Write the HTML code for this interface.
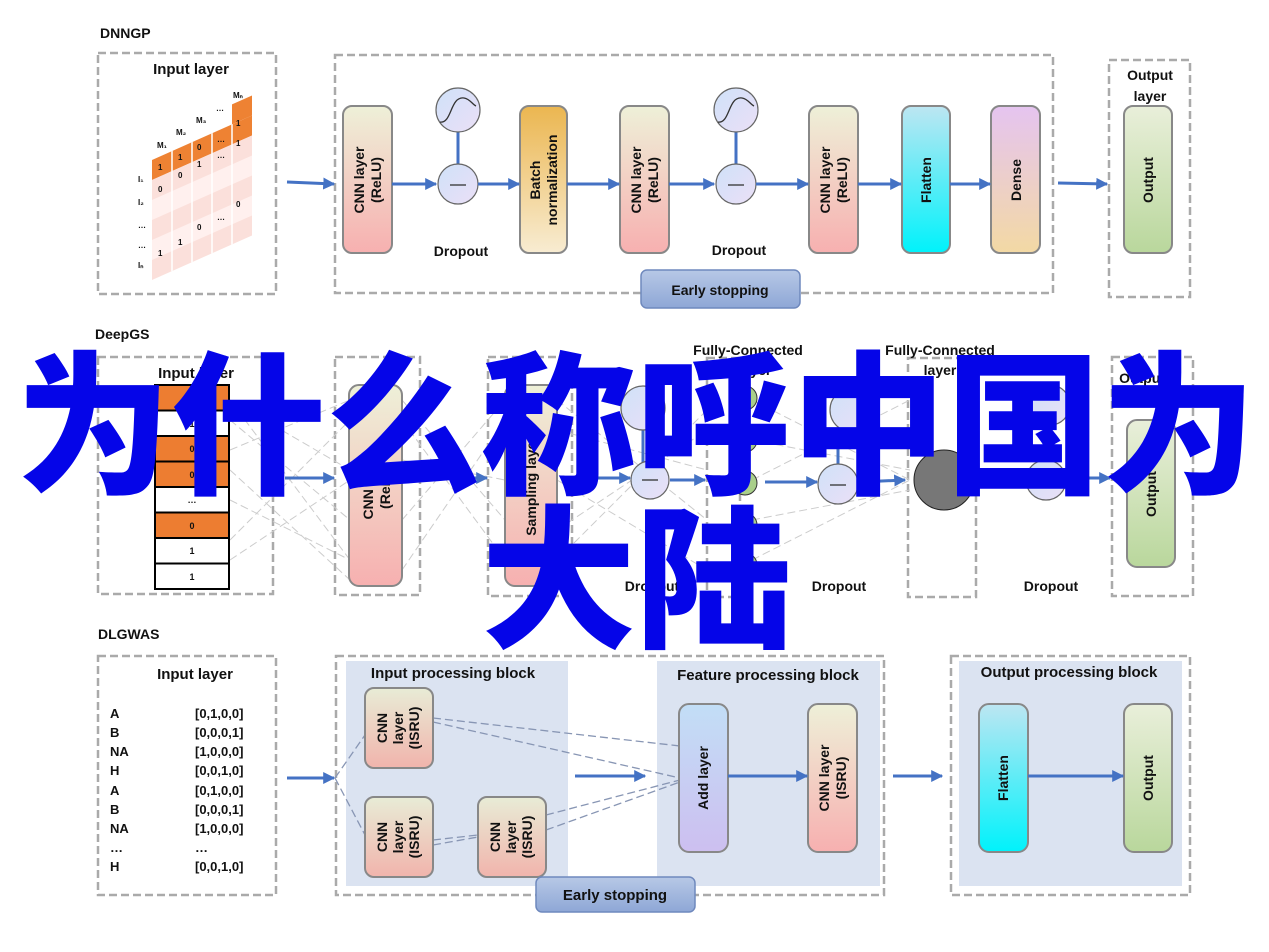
<!DOCTYPE html>
<html><head><meta charset="utf-8"><style>
html,body{margin:0;padding:0;background:#fff;width:1269px;height:952px;overflow:hidden}
svg{display:block}
text{font-family:"Liberation Sans",Arial,sans-serif;font-weight:bold;fill:#111}
.cj{font-family:"Liberation Sans","Noto Sans CJK SC",sans-serif;font-weight:900;fill:#0505e8}
</style></head><body>
<svg width="1269" height="952" viewBox="0 0 1269 952" xmlns="http://www.w3.org/2000/svg">
<defs>
<linearGradient id="gC" x1="0" y1="0" x2="0" y2="1"><stop offset="0" stop-color="#eef0d8"/><stop offset="1" stop-color="#f7b0b0"/></linearGradient>
<linearGradient id="gB" x1="0" y1="0" x2="0" y2="1"><stop offset="0" stop-color="#ebb650"/><stop offset="1" stop-color="#f8ecd2"/></linearGradient>
<linearGradient id="gF" x1="0" y1="0" x2="0" y2="1"><stop offset="0" stop-color="#bde6f2"/><stop offset="1" stop-color="#00f2fb"/></linearGradient>
<linearGradient id="gD" x1="0" y1="0" x2="0" y2="1"><stop offset="0" stop-color="#e5c4f0"/><stop offset="1" stop-color="#f3d9a4"/></linearGradient>
<linearGradient id="gO" x1="0" y1="0" x2="0" y2="1"><stop offset="0" stop-color="#e9efda"/><stop offset="1" stop-color="#b9d79c"/></linearGradient>
<linearGradient id="gA" x1="0" y1="0" x2="0" y2="1"><stop offset="0" stop-color="#c2def6"/><stop offset="1" stop-color="#cdbff0"/></linearGradient>
<linearGradient id="gI" x1="0" y1="0" x2="0" y2="1"><stop offset="0" stop-color="#e8ecd6"/><stop offset="1" stop-color="#f1b4ac"/></linearGradient>
<linearGradient id="gCi" x1="0" y1="0" x2="1" y2="1"><stop offset="0" stop-color="#cfe1f8"/><stop offset="1" stop-color="#ebe0f7"/></linearGradient>
<linearGradient id="gE" x1="0" y1="0" x2="0" y2="1"><stop offset="0" stop-color="#b7c8e6"/><stop offset="1" stop-color="#8ea7d6"/></linearGradient>
<marker id="ar" viewBox="0 0 10 10" refX="9" refY="5" markerWidth="4" markerHeight="4" orient="auto"><path d="M0,0L10,5L0,10z" fill="#4472c4"/></marker>
</defs>
<g fill="none" stroke="#aaa" stroke-width="2.5" stroke-dasharray="8,4">
<rect x="98" y="53" width="178" height="241"/>
<rect x="335" y="55" width="718" height="238"/>
<rect x="1109" y="60" width="81" height="237"/>
<rect x="98" y="357" width="175" height="237"/>
<rect x="335" y="357" width="85" height="238"/>
<rect x="488" y="357" width="84" height="239"/>
<rect x="707" y="358" width="33" height="239"/>
<rect x="908" y="358" width="68" height="239"/>
<rect x="1112" y="357" width="81" height="239"/>
<rect x="98" y="656" width="178" height="239"/>
<rect x="336" y="656" width="548" height="239"/>
<rect x="951" y="656" width="239" height="239"/>
</g>
<text x="100" y="38" font-size="14">DNNGP</text>
<text x="95" y="339" font-size="14">DeepGS</text>
<text x="98" y="639" font-size="14">DLGWAS</text>

<!-- DNNGP input matrix -->
<text x="191" y="74" font-size="15" text-anchor="middle">Input layer</text>
<g transform="translate(152,160) skewY(-24)">
<rect x="0" y="0" width="100" height="20" fill="#ee8233"/>
<rect x="0" y="20" width="100" height="100" fill="#fbe0db"/>
<rect x="0" y="40" width="100" height="20" fill="#fff0ee"/>
<rect x="0" y="80" width="100" height="20" fill="#fff0ee"/>
<rect x="80" y="-20" width="20" height="20" fill="#ee8233"/>
<g stroke="#fff" stroke-width="1.5"><line x1="20" y1="0" x2="20" y2="120"/><line x1="40" y1="0" x2="40" y2="120"/><line x1="60" y1="0" x2="60" y2="120"/><line x1="80" y1="0" x2="80" y2="120"/></g>
</g>
<g font-size="8" font-weight="normal"><text x="158" y="170">1</text><text x="178" y="160">1</text><text x="197" y="150">0</text><text x="217" y="142">…</text><text x="236" y="126">1</text>
<text x="158" y="192">0</text><text x="178" y="178">0</text><text x="197" y="167">1</text><text x="217" y="158">…</text><text x="236" y="146">1</text>
<text x="236" y="207">0</text><text x="197" y="230">0</text><text x="217" y="220">…</text><text x="178" y="245">1</text><text x="158" y="256">1</text>
<text x="138" y="182">I₁</text><text x="138" y="205">I₂</text><text x="138" y="228">…</text><text x="138" y="248">…</text><text x="138" y="268">Iₙ</text>
<text x="157" y="148">M₁</text><text x="176" y="135">M₂</text><text x="196" y="123">M₃</text><text x="216" y="111">…</text><text x="233" y="98">Mₙ</text></g>

<!-- DNNGP nodes -->
<g stroke="#888" stroke-width="2">
<rect x="343" y="106" width="49" height="147" rx="9" fill="url(#gC)"/>
<rect x="520" y="106" width="47" height="147" rx="9" fill="url(#gB)"/>
<rect x="620" y="106" width="49" height="147" rx="9" fill="url(#gC)"/>
<rect x="809" y="106" width="49" height="147" rx="9" fill="url(#gC)"/>
<rect x="902" y="106" width="48" height="147" rx="9" fill="url(#gF)"/>
<rect x="991" y="106" width="49" height="147" rx="9" fill="url(#gD)"/>
<rect x="1124" y="106" width="48" height="147" rx="9" fill="url(#gO)"/>
</g>
<g font-size="14" text-anchor="middle">
<text transform="translate(367,180) rotate(-90)"><tspan x="0" y="-3">CNN layer</tspan><tspan x="0" y="14">(ReLU)</tspan></text>
<text transform="translate(543,180) rotate(-90)"><tspan x="0" y="-3">Batch</tspan><tspan x="0" y="14">normalization</tspan></text>
<text transform="translate(644,180) rotate(-90)"><tspan x="0" y="-3">CNN layer</tspan><tspan x="0" y="14">(ReLU)</tspan></text>
<text transform="translate(833,180) rotate(-90)"><tspan x="0" y="-3">CNN layer</tspan><tspan x="0" y="14">(ReLU)</tspan></text>
<text transform="translate(931,180) rotate(-90)">Flatten</text>
<text transform="translate(1021,180) rotate(-90)">Dense</text>
<text transform="translate(1153,180) rotate(-90)">Output</text>
<text x="461" y="256">Dropout</text><text x="739" y="255">Dropout</text>
</g>
<!-- dropout circles -->
<g stroke="#666" stroke-width="1.2" fill="url(#gCi)">
<line x1="458" y1="132" x2="458" y2="164" stroke="#4472c4" stroke-width="3"/>
<circle cx="458" cy="110" r="22"/><circle cx="458" cy="184" r="20"/>
<line x1="736" y1="132" x2="736" y2="164" stroke="#4472c4" stroke-width="3"/>
<circle cx="736" cy="110" r="22"/><circle cx="736" cy="184" r="20"/>
</g>
<g stroke="#333" stroke-width="1.3" fill="none">
<path d="M440,122 C452,124 450,96 464,98 C470,99 472,104 476,106"/><line x1="450" y1="185" x2="466" y2="185"/>
<path d="M718,122 C730,124 728,96 742,98 C748,99 750,104 754,106"/><line x1="728" y1="185" x2="744" y2="185"/>
</g>
<g stroke="#4472c4" stroke-width="3" marker-end="url(#ar)">
<line x1="287" y1="182" x2="334" y2="184"/><line x1="392" y1="184" x2="436" y2="184"/><line x1="478" y1="184" x2="519" y2="184"/>
<line x1="567" y1="184" x2="619" y2="184"/><line x1="669" y1="184" x2="714" y2="184"/><line x1="756" y1="184" x2="808" y2="184"/>
<line x1="858" y1="184" x2="901" y2="184"/><line x1="950" y1="184" x2="990" y2="184"/><line x1="1058" y1="183" x2="1107" y2="184"/>
</g>
<rect x="641" y="270" width="159" height="38" rx="6" fill="url(#gE)" stroke="#6f89bd" stroke-width="1.5"/>
<text x="720" y="295" font-size="14" text-anchor="middle">Early stopping</text>

<!-- DeepGS -->
<g stroke="#ccc" stroke-width="1" stroke-dasharray="8,4" fill="none">
<path d="M230,400L350,470M230,400L350,560M230,450L350,400M230,500L350,560M230,540L350,420M230,560L350,480M230,420L350,520M230,470L350,580"/>
<path d="M402,420L505,560M402,520L505,400M402,460L505,480M402,570L505,420M402,400L505,520"/>
<path d="M557,400L707,520M557,560L707,410M557,480L707,570M557,430L707,470M557,530L707,430"/>
<path d="M752,400L910,480M752,560L910,480M752,440L910,470M752,520L910,490M752,480L910,400"/>
</g>
<text x="196" y="378" font-size="15" text-anchor="middle">Input layer</text>
<g stroke="#000" stroke-width="2">
<rect x="155" y="385" width="74" height="25.5" fill="#ed7d31"/><rect x="155" y="410.5" width="74" height="25.5" fill="#fff"/>
<rect x="155" y="436" width="74" height="25.5" fill="#ed7d31"/><rect x="155" y="461.5" width="74" height="25.5" fill="#ed7d31"/>
<rect x="155" y="487" width="74" height="25.5" fill="#fff"/><rect x="155" y="512.5" width="74" height="25.5" fill="#ed7d31"/>
<rect x="155" y="538" width="74" height="25.5" fill="#fff"/><rect x="155" y="563.5" width="74" height="25.5" fill="#fff"/>
</g>
<g font-size="9" font-weight="normal" text-anchor="middle"><text x="192" y="401">0</text><text x="192" y="427">1</text><text x="192" y="452">0</text><text x="192" y="478">0</text><text x="192" y="503">…</text><text x="192" y="529">0</text><text x="192" y="554">1</text><text x="192" y="580">1</text></g>
<g stroke="#888" stroke-width="2">
<rect x="349" y="385" width="53" height="201" rx="10" fill="url(#gC)"/>
<rect x="505" y="385" width="52" height="201" rx="10" fill="url(#gC)"/>
<rect x="1127" y="420" width="48" height="147" rx="10" fill="url(#gO)"/>
</g>
<g font-size="14" text-anchor="middle">
<text transform="translate(376,486) rotate(-90)"><tspan x="0" y="-3">CNN layer</tspan><tspan x="0" y="14">(ReLU)</tspan></text>
<text transform="translate(531,486) rotate(-90)" dy="5">Sampling layer</text>
<text transform="translate(1151,494) rotate(-90)" dy="5">Output</text>
<text x="748" y="355">Fully-Connected</text><text x="755" y="375">layer</text>
<text x="940" y="355">Fully-Connected</text><text x="940" y="375">layer</text>
<text x="1142" y="383">Output</text><text x="1142" y="403">layer</text>
<text x="1150" y="80">Output</text><text x="1150" y="101">layer</text>
<text x="652" y="591">Dropout</text><text x="839" y="591">Dropout</text><text x="1051" y="591">Dropout</text>
</g>
<g stroke="#333" stroke-width="1" fill="#a9cf8a">
<circle cx="745" cy="398" r="12"/><circle cx="745" cy="440" r="12"/><circle cx="745" cy="483" r="12"/><circle cx="745" cy="525" r="12"/><circle cx="745" cy="565" r="12"/>
</g>
<circle cx="944" cy="480" r="30" fill="#777" stroke="#222"/>
<g stroke="#666" stroke-width="1.2" fill="url(#gCi)">
<line x1="643" y1="430" x2="643" y2="462" stroke="#4472c4" stroke-width="3"/><circle cx="643" cy="408" r="22"/><circle cx="650" cy="480" r="19"/>
<line x1="838" y1="432" x2="838" y2="465" stroke="#4472c4" stroke-width="3"/><circle cx="852" cy="410" r="22"/><circle cx="838" cy="484" r="20"/>
<circle cx="1050" cy="405" r="20"/><circle cx="1046" cy="480" r="20"/>
</g>
<g stroke="#333" stroke-width="1.3"><line x1="642" y1="480" x2="658" y2="480"/><line x1="830" y1="485" x2="846" y2="485"/></g>
<g stroke="#4472c4" stroke-width="3" marker-end="url(#ar)">
<line x1="285" y1="478" x2="334" y2="478"/><line x1="428" y1="478" x2="487" y2="478"/><line x1="580" y1="478" x2="630" y2="478"/>
<line x1="670" y1="480" x2="705" y2="480"/><line x1="765" y1="482" x2="817" y2="482"/><line x1="860" y1="482" x2="905" y2="480"/>
<line x1="1068" y1="478" x2="1110" y2="478"/>
</g>

<!-- DLGWAS -->
<text x="195" y="679" font-size="15" text-anchor="middle">Input layer</text>
<g font-size="13">
<text x="110" y="718">A</text><text x="195" y="718">[0,1,0,0]</text>
<text x="110" y="737">B</text><text x="195" y="737">[0,0,0,1]</text>
<text x="110" y="756">NA</text><text x="195" y="756">[1,0,0,0]</text>
<text x="110" y="775">H</text><text x="195" y="775">[0,0,1,0]</text>
<text x="110" y="795">A</text><text x="195" y="795">[0,1,0,0]</text>
<text x="110" y="814">B</text><text x="195" y="814">[0,0,0,1]</text>
<text x="110" y="833">NA</text><text x="195" y="833">[1,0,0,0]</text>
<text x="110" y="852">…</text><text x="195" y="852">…</text>
<text x="110" y="871">H</text><text x="195" y="871">[0,0,1,0]</text>
</g>
<rect x="346" y="661" width="222" height="225" fill="#dbe3f1"/>
<rect x="657" y="661" width="223" height="225" fill="#dbe3f1"/>
<rect x="959" y="661" width="223" height="225" fill="#dbe3f1"/>
<g font-size="15" text-anchor="middle"><text x="453" y="678">Input processing block</text><text x="768" y="680">Feature processing block</text><text x="1069" y="677">Output processing block</text></g>
<g stroke="#8896b4" stroke-width="1.3" stroke-dasharray="8,4" fill="none">
<path d="M335,778L365,735M335,778L365,835M433,718L680,746M433,722L680,778M433,840L478,835M433,845L478,837M546,815L680,780M546,830L680,782"/>
</g>
<g stroke="#888" stroke-width="2">
<rect x="365" y="688" width="68" height="80" rx="9" fill="url(#gI)"/>
<rect x="365" y="797" width="68" height="80" rx="9" fill="url(#gI)"/>
<rect x="478" y="797" width="68" height="80" rx="9" fill="url(#gI)"/>
<rect x="679" y="704" width="49" height="148" rx="10" fill="url(#gA)"/>
<rect x="808" y="704" width="49" height="148" rx="10" fill="url(#gC)"/>
<rect x="979" y="704" width="49" height="148" rx="10" fill="url(#gF)"/>
<rect x="1124" y="704" width="48" height="148" rx="10" fill="url(#gO)"/>
</g>
<g font-size="14" text-anchor="middle">
<text transform="translate(399,728) rotate(-90)"><tspan x="0" y="-12">CNN</tspan><tspan x="0" y="4">layer</tspan><tspan x="0" y="20">(ISRU)</tspan></text>
<text transform="translate(399,837) rotate(-90)"><tspan x="0" y="-12">CNN</tspan><tspan x="0" y="4">layer</tspan><tspan x="0" y="20">(ISRU)</tspan></text>
<text transform="translate(512,837) rotate(-90)"><tspan x="0" y="-12">CNN</tspan><tspan x="0" y="4">layer</tspan><tspan x="0" y="20">(ISRU)</tspan></text>
<text transform="translate(708,778) rotate(-90)">Add layer</text>
<text transform="translate(832,778) rotate(-90)"><tspan x="0" y="-3">CNN layer</tspan><tspan x="0" y="14">(ISRU)</tspan></text>
<text transform="translate(1008,778) rotate(-90)">Flatten</text>
<text transform="translate(1153,778) rotate(-90)">Output</text>
</g>
<g stroke="#4472c4" stroke-width="3" marker-end="url(#ar)">
<line x1="287" y1="778" x2="334" y2="778"/><line x1="575" y1="776" x2="645" y2="776"/><line x1="728" y1="776" x2="807" y2="776"/>
<line x1="893" y1="776" x2="942" y2="776"/><line x1="1028" y1="776" x2="1123" y2="776"/>
</g>
<rect x="536" y="877" width="159" height="35" rx="6" fill="url(#gE)" stroke="#6f89bd" stroke-width="1.5"/>
<text x="615" y="900" font-size="15" text-anchor="middle">Early stopping</text>

<!-- overlay -->
<text class="cj" x="636" y="482" font-size="155" text-anchor="middle">为什么称呼中国为</text>
<text class="cj" x="636" y="636" font-size="155" text-anchor="middle">大陆</text>
</svg>
</body></html>
